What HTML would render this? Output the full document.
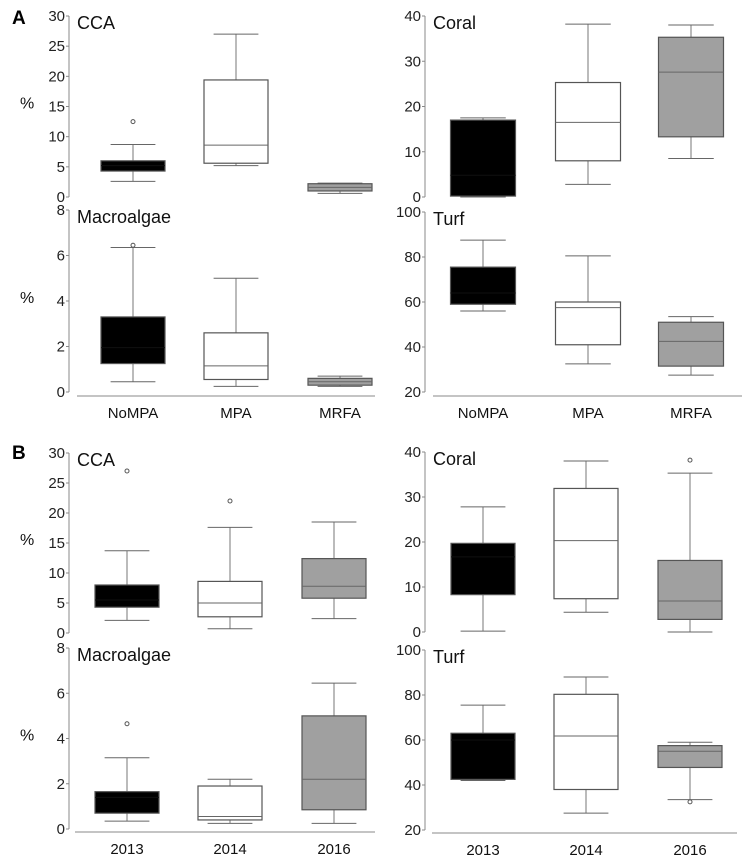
<!DOCTYPE html>
<html><head><meta charset="utf-8"><style>
body{margin:0;background:#fff;}
svg{display:block;font-family:"Liberation Sans",sans-serif;}
</style></head><body>
<svg id="fig" width="750" height="865" viewBox="0 0 750 865">
<text x="12" y="24" font-size="19" font-weight="bold">A</text>
<text x="12" y="459" font-size="19" font-weight="bold">B</text>
</svg>
<script>
// Categories
const catsA = ["NoMPA","MPA","MRFA"];
const catsB = ["2013","2014","2016"];
// Each box: [whiskerLow, q1, median, q3, whiskerHigh]
const ccaA   = [[2.6,4.3,5.2,6.0,8.7],[5.2,5.6,8.6,19.4,27],[0.6,1.0,1.6,2.2,2.3]];
const ccaAOut = [[12.5],[],[]];
const macA   = [[0.45,1.25,1.95,3.3,6.35],[0.25,0.55,1.15,2.6,5.0],[0.25,0.3,0.45,0.6,0.7]];
const macAOut = [[6.45],[],[]];
const corA   = [[0,0.2,4.8,17,17.5],[2.8,8,16.5,25.3,38.2],[8.5,13.3,27.6,35.3,38]];
const corAOut = [[],[],[]];
const turA   = [[56,59,64,75.5,87.5],[32.5,41,57.5,60,80.5],[27.5,31.5,42.5,51,53.5]];
const turAOut = [[],[],[]];
const ccaB   = [[2.1,4.3,5.5,8,13.7],[0.7,2.7,5.0,8.6,17.6],[2.4,5.8,7.8,12.4,18.5]];
const ccaBOut = [[27],[22],[]];
const macB   = [[0.35,0.7,1.4,1.65,3.15],[0.25,0.4,0.55,1.9,2.2],[0.25,0.85,2.2,5.0,6.45]];
const macBOut = [[4.65],[],[]];
const corB   = [[0.2,8.3,16.7,19.7,27.8],[4.4,7.4,20.3,31.9,38],[0,2.8,6.9,15.9,35.3]];
const corBOut = [[],[],[38.2]];
const turB   = [[42,42.5,60,63,75.5],[27.5,38,61.8,80.3,88],[33.5,47.8,55,57.5,59]];
const turBOut = [[],[],[32.5]];
// Tick labels
const ticksCCA = [0,5,10,15,20,25,30];
const ticksMac = [0,2,4,6,8];
const ticksCor = [0,10,20,30,40];
const ticksTur = [20,40,60,80,100];

const fills = ["#000","#fff","#a0a0a0"];
const svg = document.getElementById("fig");
const NS = "http://www.w3.org/2000/svg";
function mk(tag, attrs, parent){
  const e = document.createElementNS(NS, tag);
  for (const k in attrs) e.setAttribute(k, attrs[k]);
  (parent||svg).appendChild(e);
  return e;
}
function panel(p){
  const g = mk("g", {});
  
  
  const y = v => p.y0 + (v - p.min) / (p.max - p.min) * (p.y1 - p.y0);
  const ax = mk("line",{x1:p.ax,x2:p.ax,y1:y(p.max),y2:y(p.min),stroke:"#888","stroke-width":1},g);
  
  
  p.ticks.forEach(t=>{
    mk("line",{x1:p.ax-3,x2:p.ax,y1:y(t),y2:y(t),stroke:"#888"},g);
    const tx = mk("text",{x:p.ax-4,y:y(t)+5,"font-size":15,"text-anchor":"end",fill:"#222"},g);
    tx.textContent = t;
    
    
  });
  const ti = mk("text",{x:p.ax+8,y:y(p.max)+13,"font-size":18,fill:"#111"},g);
  ti.textContent = p.title;
  
  
  if (p.pct){
    const pc = mk("text",{x:20,y:(y(p.max)+y(p.min))/2+2,"font-size":16,fill:"#111"},g);
    pc.textContent = "%";
    
    
  }
  p.data.forEach((d,i)=>{
    const cx = p.cx[i], w = p.bw, cap = w*0.35;
    const bg = mk("g",{},g);
    
    
    mk("line",{x1:cx,x2:cx,y1:y(d[0]),y2:y(d[4]),stroke:"#777"},bg);
    mk("line",{x1:cx-cap,x2:cx+cap,y1:y(d[0]),y2:y(d[0]),stroke:"#666"},bg);
    mk("line",{x1:cx-cap,x2:cx+cap,y1:y(d[4]),y2:y(d[4]),stroke:"#666"},bg);
    mk("rect",{x:cx-w/2,y:y(d[3]),width:w,height:y(d[1])-y(d[3]),fill:fills[i],stroke:"#555","stroke-width":1.2},bg);
    mk("line",{x1:cx-w/2,x2:cx+w/2,y1:y(d[2]),y2:y(d[2]),stroke:i==0?"#111":"#666"},bg);
    p.out[i].forEach(o=>{
      const c = mk("circle",{cx:cx,cy:y(o),r:2,fill:"#fff",stroke:"#555"},bg);
      
      
    });
  });
  if (p.xaxis){
    const xl = mk("line",{x1:p.xl[0],x2:p.xl[1],y1:p.xy,y2:p.xy,stroke:"#888"},g);
    
    
    p.cats.forEach((c,i)=>{
      const t = mk("text",{x:p.cx[i],y:p.xy+22,"font-size":15,"text-anchor":"middle",fill:"#111"},g);
      t.textContent = c;
      
      
    });
  }
}
const cxL = [133,236,340], cxR = [483,588,691];
const cxLB = [127,230,334], cxRB = [483,586,690];
panel({name:"cca-panel-a",title:"CCA",pct:true,ax:69,y0:197,y1:16,min:0,max:30,ticks:ticksCCA,data:ccaA,out:ccaAOut,cx:cxL,bw:64,cats:catsA});
panel({name:"macroalgae-panel-a",title:"Macroalgae",pct:true,ax:69,y0:392,y1:210,min:0,max:8,ticks:ticksMac,data:macA,out:macAOut,cx:cxL,bw:64,cats:catsA,xaxis:true,xl:[77,375],xy:396});
panel({name:"coral-panel-a",title:"Coral",ax:425,y0:197,y1:16,min:0,max:40,ticks:ticksCor,data:corA,out:corAOut,cx:cxR,bw:65,cats:catsA});
panel({name:"turf-panel-a",title:"Turf",ax:425,y0:392,y1:212,min:20,max:100,ticks:ticksTur,data:turA,out:turAOut,cx:cxR,bw:65,cats:catsA,xaxis:true,xl:[433,742],xy:396});
panel({name:"cca-panel-b",title:"CCA",pct:true,ax:69,y0:633,y1:453,min:0,max:30,ticks:ticksCCA,data:ccaB,out:ccaBOut,cx:cxLB,bw:64,cats:catsB});
panel({name:"macroalgae-panel-b",title:"Macroalgae",pct:true,ax:69,y0:829,y1:648,min:0,max:8,ticks:ticksMac,data:macB,out:macBOut,cx:cxLB,bw:64,cats:catsB,xaxis:true,xl:[75,375],xy:832});
panel({name:"coral-panel-b",title:"Coral",ax:425,y0:632,y1:452,min:0,max:40,ticks:ticksCor,data:corB,out:corBOut,cx:cxRB,bw:64,cats:catsB});
panel({name:"turf-panel-b",title:"Turf",ax:425,y0:830,y1:650,min:20,max:100,ticks:ticksTur,data:turB,out:turBOut,cx:cxRB,bw:64,cats:catsB,xaxis:true,xl:[432,737],xy:833});
</script>
</body></html>
